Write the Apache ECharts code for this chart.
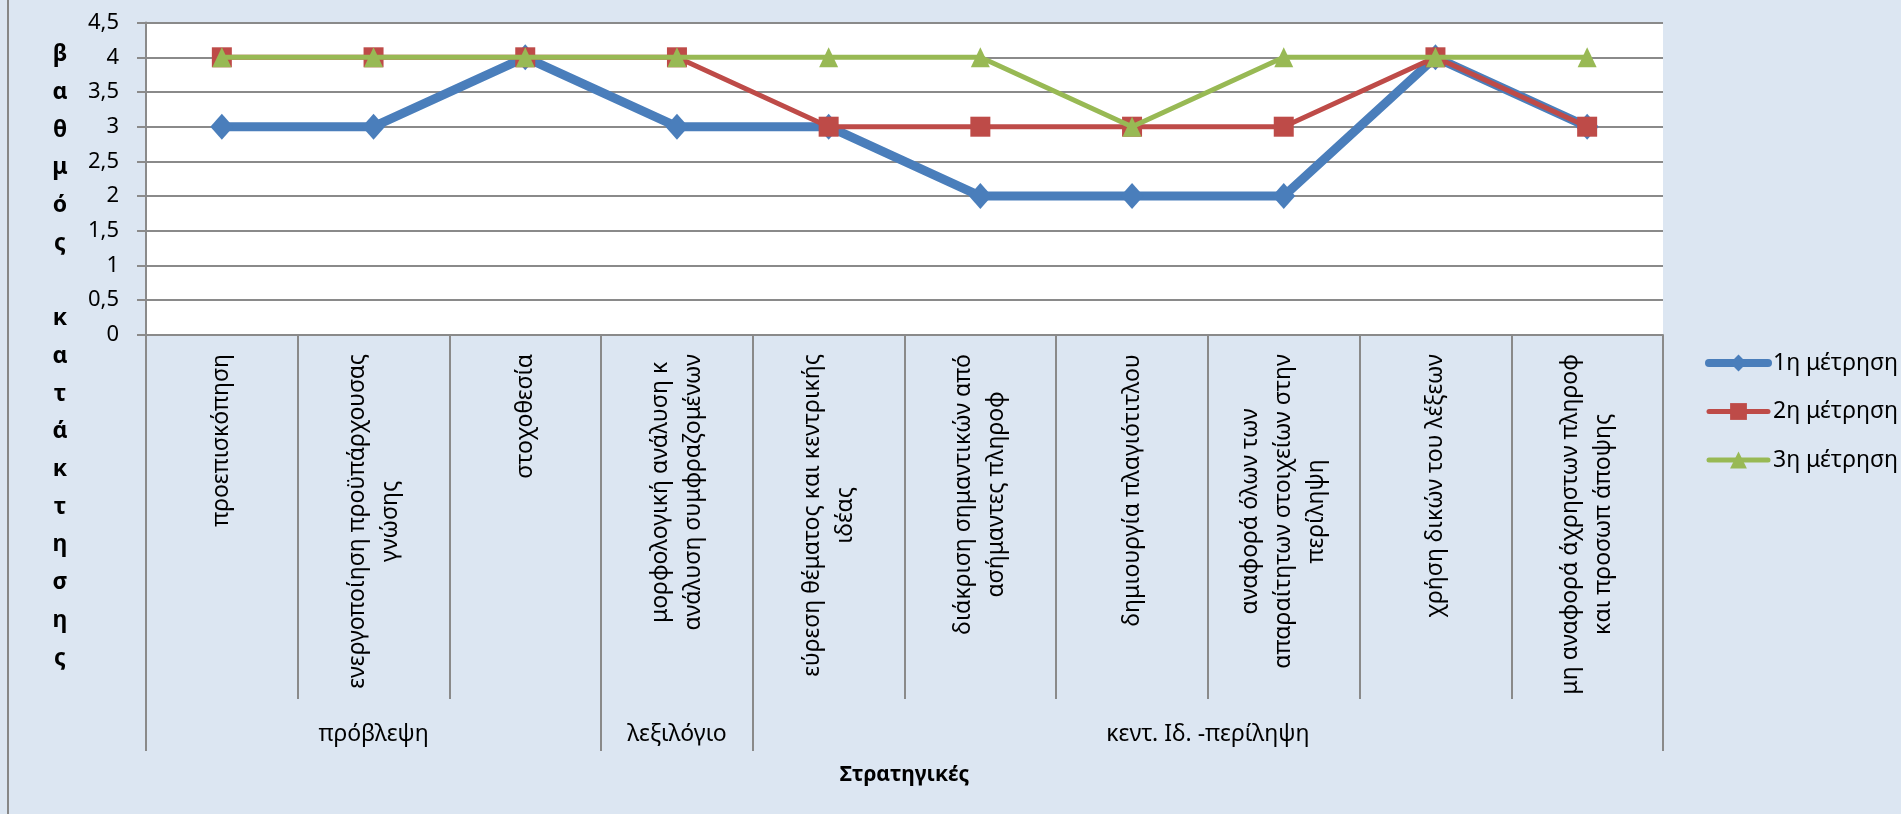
<!DOCTYPE html>
<html>
<head>
<meta charset="utf-8">
<title>Στρατηγικές</title>
<script src="https://cdn.jsdelivr.net/npm/echarts@6/dist/echarts.min.js"></script>
<style>
  html, body { margin: 0; padding: 0; background: #DCE6F2; }
  #chart { width: 1901px; height: 814px; }
</style>
</head>
<body>
<div id="chart"></div>
<script>
// Strategies (each entry = the lines of its wrapped label)
const categories = [
  ['προεπισκόπηση'],
  ['ενεργοποίηση προϋπάρχουσας', 'γνώσης'],
  ['στοχοθεσία'],
  ['μορφολογική ανάλυση κ', 'ανάλυση συμφραζομένων'],
  ['εύρεση θέματος και κεντρικής', 'ιδέας'],
  ['διάκριση σημαντικών από', 'ασήμαντες πληροφ'],
  ['δημιουργία πλαγιότιτλου'],
  ['αναφορά όλων των', 'απαραίτητων στοιχείων στην', 'περίληψη'],
  ['χρήση δικών του λέξεων'],
  ['μη αναφορά άχρηστων πληροφ', 'και προσωπ άποψης']
];

// Strategy groups and how many strategies each one covers
const groupNames = ['πρόβλεψη', 'λεξιλόγιο', 'κεντ. Ιδ. -περίληψη'];
const groupSpans = [3, 1, 6];

// Scores per measurement
const seriesNames = ['1η μέτρηση', '2η μέτρηση', '3η μέτρηση'];
const measurement1 = [3, 3, 4, 3, 3, 2, 2, 2, 4, 3];
const measurement2 = [4, 4, 4, 4, 3, 3, 3, 3, 4, 3];
const measurement3 = [4, 4, 4, 4, 4, 4, 3, 4, 4, 4];

// Value axis range
const yMin = 0;
const yMax = 4.5;
const yStep = 0.5;

const xTitle = 'Στρατηγικές';
const yTitle = 'βαθμός κατάκτησης';

const FONT = '"Noto Sans", "Open Sans", sans-serif';
const LABEL_SIZE = 23;
const LABEL_LINE = 33;
const GRID_COLOR = '#8a8a8a';

// Group boundaries / centres in category units
const groupBounds = [0];
groupSpans.forEach(s => groupBounds.push(groupBounds[groupBounds.length - 1] + s));
const groupCenters = groupSpans.map((s, i) => groupBounds[i] + s / 2);

// Each wrapped label line is centred inside a box as wide as its longest line
const measureCtx = document.createElement('canvas').getContext('2d');
measureCtx.font = LABEL_SIZE + 'px ' + FONT;
const rich = {};
categories.forEach((lines, i) => {
  const w = Math.max.apply(null, lines.map(l => measureCtx.measureText(l).width));
  rich['c' + i] = {
    width: Math.ceil(w) + 2,
    align: 'center',
    fontSize: LABEL_SIZE,
    fontFamily: FONT,
    lineHeight: LABEL_LINE,
    color: '#000'
  };
});

const chart = echarts.init(document.getElementById('chart'), null, { renderer: 'canvas' });

const seriesStyle = [
  { color: '#4A7EBB', width: 9, symbol: 'diamond', size: [23, 26] },
  { color: '#BE4B48', width: 5, symbol: 'rect', size: 20 },
  { color: '#98B954', width: 5, symbol: 'triangle', size: [19, 20] }
];
const seriesData = [measurement1, measurement2, measurement3];

chart.setOption({
  backgroundColor: '#DCE6F2',
  animation: false,
  textStyle: { fontFamily: FONT },
  grid: {
    left: 146, right: 238, top: 22.6, bottom: 479.1,
    containLabel: false,
    outerBoundsMode: 'none',
    show: true,
    backgroundColor: '#ffffff',
    borderWidth: 0
  },
  legend: {
    orient: 'vertical',
    left: 1700,
    top: 345,
    itemWidth: 59,
    itemHeight: 21,
    itemGap: 22.5,
    textStyle: { fontSize: 23, fontFamily: FONT, color: '#000', lineHeight: 26 },
    data: seriesNames.map((n, i) => ({
      name: n,
      lineStyle: { width: i === 0 ? 8 : 5, cap: 'round' }
    }))
  },
  xAxis: [
    {
      type: 'category',
      position: 'bottom',
      data: categories.map(l => l.join(' ')),
      boundaryGap: true,
      axisLine: { show: true, lineStyle: { color: GRID_COLOR, width: 2 } },
      axisTick: { show: true, interval: 0, length: 364, lineStyle: { color: GRID_COLOR, width: 2 } },
      axisLabel: {
        interval: 0,
        rotate: 90,
        margin: 18,
        fontSize: LABEL_SIZE,
        fontFamily: FONT,
        color: '#000',
        lineHeight: LABEL_LINE,
        rich: rich,
        formatter: (v, i) => categories[i].map(l => '{c' + i + '|' + l + '}').join('\n')
      },
      splitLine: { show: false }
    },
    {
      type: 'value',
      position: 'bottom',
      min: groupBounds[0],
      max: groupBounds[groupBounds.length - 1],
      axisLine: { show: false },
      splitLine: { show: false },
      axisTick: {
        show: true,
        customValues: groupBounds,
        length: 416,
        lineStyle: { color: GRID_COLOR, width: 2 }
      },
      axisLabel: {
        customValues: groupCenters,
        margin: 400,
        verticalAlign: 'middle',
        fontSize: LABEL_SIZE,
        fontFamily: FONT,
        color: '#000',
        formatter: v => groupNames[groupCenters.indexOf(v)] || ''
      },
      name: xTitle,
      nameLocation: 'middle',
      nameGap: 440,
      nameMoveOverlap: false,
      nameTextStyle: {
        fontSize: 21,
        fontWeight: 'bold',
        fontFamily: FONT,
        color: '#000',
        verticalAlign: 'middle'
      }
    }
  ],
  yAxis: {
    type: 'value',
    min: yMin,
    max: yMax,
    interval: yStep,
    axisLine: { show: true, lineStyle: { color: GRID_COLOR, width: 2 } },
    axisTick: { show: true, length: 9, lineStyle: { color: GRID_COLOR, width: 2 } },
    splitLine: { show: true, lineStyle: { color: GRID_COLOR, width: 2 } },
    axisLabel: {
      margin: 27,
      fontSize: 22,
      fontFamily: FONT,
      color: '#000',
      formatter: v => String(v).replace('.', ',')
    }
  },
  graphic: [
    {
      type: 'line',
      shape: { x1: 8, y1: 0, x2: 8, y2: 814 },
      style: { stroke: '#878787', lineWidth: 2 },
      silent: true
    },
    {
      type: 'text',
      x: 60,
      y: 36,
      silent: true,
      style: {
        text: yTitle.split('').join('\n'),
        fontSize: 23,
        fontWeight: 'bold',
        fontFamily: FONT,
        fill: '#000',
        align: 'center',
        verticalAlign: 'top',
        lineHeight: 37.7
      }
    }
  ],
  series: seriesNames.map((name, i) => ({
    name: name,
    type: 'line',
    xAxisIndex: 0,
    yAxisIndex: 0,
    data: seriesData[i],
    symbol: seriesStyle[i].symbol,
    symbolSize: seriesStyle[i].size,
    showAllSymbol: true,
    lineStyle: { color: seriesStyle[i].color, width: seriesStyle[i].width, join: 'round' },
    itemStyle: { color: seriesStyle[i].color },
    emphasis: { disabled: true },
    z: 2 + i
  }))
});
</script>
</body>
</html>
